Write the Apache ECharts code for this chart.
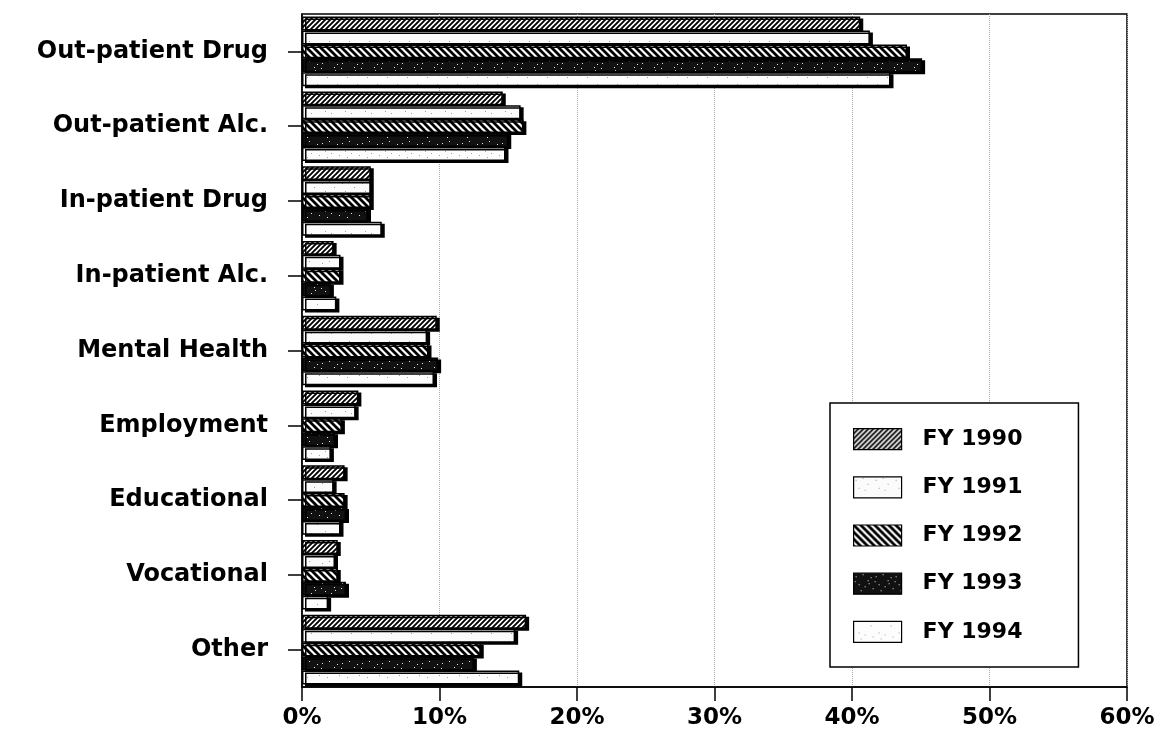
<!DOCTYPE html>
<html>
<head>
<meta charset="utf-8">
<script src="https://cdn.jsdelivr.net/npm/echarts@6/dist/echarts.min.js"></script>
<style>
html,body{margin:0;padding:0;background:#fff;}
#chart{width:1160px;height:746px;}
</style>
</head>
<body>
<div id="chart"></div>
<script>
// ---- data ----
var categories = ['Out-patient Drug','Out-patient Alc.','In-patient Drug','In-patient Alc.','Mental Health','Employment','Educational','Vocational','Other'];
var seriesNames = ['FY 1990','FY 1991','FY 1992','FY 1993','FY 1994'];
var fy1990 = [40.6, 14.6, 5.0, 2.3, 9.8, 4.1, 3.1, 2.6, 16.3];
var fy1991 = [41.3, 15.9, 5.0, 2.8, 9.1, 3.9, 2.3, 2.4, 15.5];
var fy1992 = [44.0, 16.1, 5.0, 2.8, 9.2, 2.9, 3.1, 2.6, 13.0];
var fy1993 = [45.1, 15.0, 4.8, 2.1, 9.9, 2.4, 3.2, 3.2, 12.5];
var fy1994 = [42.8, 14.8, 5.8, 2.5, 9.6, 2.1, 2.8, 1.9, 15.8];
var xTicks = [0, 10, 20, 30, 40, 50, 60];

// ---- texture patterns ----
function makeCanvas(w, h) { var c = document.createElement('canvas'); c.width = w; c.height = h; return c; }
function hatch(size, width, dir) {
  var c = makeCanvas(size, size), g = c.getContext('2d');
  g.fillStyle = '#fff'; g.fillRect(0, 0, size, size);
  g.strokeStyle = '#000'; g.lineWidth = width; g.lineCap = 'square';
  g.beginPath();
  if (dir === 'fwd') {
    g.moveTo(0, size); g.lineTo(size, 0);
    g.moveTo(-size, size); g.lineTo(size, -size);
    g.moveTo(0, 2 * size); g.lineTo(2 * size, 0);
  } else {
    g.moveTo(0, 0); g.lineTo(size, size);
    g.moveTo(-size, 0); g.lineTo(size, 2 * size);
    g.moveTo(0, -size); g.lineTo(2 * size, size);
  }
  g.stroke();
  return c;
}
var dotsA = [[2,3],[9,1],[14,7],[5,11],[11,13],[17,4],[19,15],[7,17],[1,8],[15,10]];
function stipple(bg, fg, dots) {
  var c = makeCanvas(20, 20), g = c.getContext('2d');
  g.fillStyle = bg; g.fillRect(0, 0, 20, 20);
  g.fillStyle = fg;
  dots.forEach(function (d) { g.fillRect(d[0], d[1], 1, 1); });
  return c;
}
var patterns = [
  { image: hatch(5, 1.9, 'fwd'), repeat: 'repeat' },
  { image: stipple('#fbfbfb', '#9a9a9a', dotsA.slice(0, 5)), repeat: 'repeat' },
  { image: hatch(7, 2.8, 'back'), repeat: 'repeat' },
  { image: stipple('#111', '#e8e8e8', dotsA), repeat: 'repeat' },
  { image: stipple('#fdfdfd', '#a0a0a0', dotsA.slice(3, 8)), repeat: 'repeat' }
];
var allData = [fy1990, fy1991, fy1992, fy1993, fy1994];

var FONT = 'DejaVu Sans';
var series = seriesNames.map(function (name, i) {
  return {
    name: name,
    type: 'bar',
    data: allData[i],
    barGap: '0%',
    barCategoryGap: '7%',
    itemStyle: {
      color: patterns[i],
      borderColor: '#000',
      borderWidth: 1.5,
      shadowColor: '#000',
      shadowBlur: 0,
      shadowOffsetX: 3,
      shadowOffsetY: 2
    }
  };
});

var chart = echarts.init(document.getElementById('chart'), null, { renderer: 'canvas' });
chart.setOption({
  animation: false,
  backgroundColor: '#fff',
  grid: {
    left: 302, right: 33, top: 14, bottom: 59,
    show: true, borderColor: '#000', borderWidth: 1.5, backgroundColor: 'transparent'
  },
  legend: {
    data: seriesNames,
    orient: 'vertical',
    left: 830, top: 403,
    itemWidth: 48, itemHeight: 21, itemGap: 26,
    padding: [25, 56, 24, 23],
    borderColor: '#000', borderWidth: 1.5,
    backgroundColor: '#fff',
    icon: 'rect',
    itemStyle: { borderColor: '#000', borderWidth: 1.2, shadowBlur: 0, shadowOffsetX: 0, shadowOffsetY: 0, shadowColor: 'transparent' },
    textStyle: { fontFamily: FONT, fontWeight: 'bold', fontSize: 22, color: '#000', padding: [0, 0, 0, 16] }
  },
  xAxis: {
    type: 'value',
    min: xTicks[0], max: xTicks[xTicks.length - 1], interval: 10,
    axisLine: { show: true, lineStyle: { color: '#000', width: 1.5 } },
    axisTick: { show: true, length: 14, lineStyle: { color: '#000', width: 1.5 } },
    axisLabel: { formatter: '{value}%', margin: 20, fontFamily: FONT, fontWeight: 'bold', fontSize: 23, color: '#000' },
    splitLine: { show: true, lineStyle: { type: 'dotted', color: '#aaa', width: 1 } }
  },
  yAxis: {
    type: 'category',
    data: categories,
    inverse: true,
    axisLine: { show: true, lineStyle: { color: '#000', width: 1.5 } },
    axisTick: { show: true, alignWithLabel: true, length: 14, lineStyle: { color: '#000', width: 1.5 } },
    axisLabel: { margin: 34, fontFamily: FONT, fontWeight: 'bold', fontSize: 24, color: '#000' },
    splitLine: { show: false }
  },
  series: series
});
</script>
</body>
</html>
